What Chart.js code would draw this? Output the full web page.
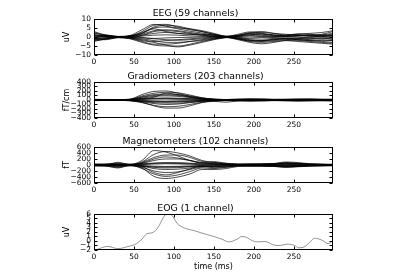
<!DOCTYPE html>
<html>
<head>
<meta charset="UTF-8">
<title>Evoked</title>
<script src="https://cdn.jsdelivr.net/npm/chart.js@4/dist/chart.umd.min.js"></script>
<style>
  body { margin: 0; background: #fff; }
  #wrap { position: relative; width: 400px; height: 280px; }
  canvas { position: absolute; left: 0; }
</style>
</head>
<body>
<div id="wrap">
  <canvas id="eeg" width="400" height="66" style="top:3px"></canvas>
  <canvas id="grad" width="400" height="66" style="top:66px"></canvas>
  <canvas id="mag" width="400" height="66" style="top:131px"></canvas>
  <canvas id="eog" width="400" height="78" style="top:198px"></canvas>
</div>
<script>
// time axis (ms)
const times = [0,15,30,45,60,75,90,105,120,135,150,165,180,195,210,225,240,255,270,285,299];
const xTicks = [0,50,100,150,200,250];

// EEG, uV
const eeg = [
  [3,1,0.3,0.5,3,6.5,7,5.5,4,3,1.5,0.3,-0.5,-1.5,-2,-1.5,-1,-1.5,-2,-2.5,-3],
  [2,1.2,0.2,0.8,4,7,6,5,4.5,3.5,2,0.5,0.8,2.5,3,2,1.5,1,0.5,1.5,3],
  [1,0.5,0,0.6,2.5,5,5.5,4.5,3.2,2.2,1,0.2,1,2,2.5,2,1,1.5,2,2.5,3.5],
  [0.5,0.8,0.2,0.3,1.5,3.5,4,3.5,2.5,1.5,0.8,0,0.5,1.2,1.5,0.8,0.5,0.8,1.2,1,1.5],
  [-0.5,0.3,0.1,0.2,1,2,2.5,2,1.5,1,0.5,0.1,0.3,0.8,0.5,0.3,0.2,0.5,0.8,0.5,0.8],
  [-1,-0.5,0,-0.2,0.5,1,1.2,1,0.6,0.4,0.2,0,-0.2,-0.5,-0.3,0,0.2,0,-0.3,0.2,0.5],
  [-1.5,-1,-0.2,-0.3,-0.5,-0.8,-0.5,-0.3,-0.2,0,0,0,-0.5,-1,-1.2,-0.8,-0.5,-0.8,-1,-0.8,-1],
  [-2,-1.2,-0.3,-0.6,-1.5,-2.5,-2,-1.5,-1,-0.5,-0.2,0,-0.8,-1.8,-2.2,-1.5,-1,-1.5,-2,-1.5,-2],
  [-1.5,-1.5,-0.4,-0.8,-2.5,-4,-4,-3.5,-2.5,-1.5,-0.8,-0.2,-1,-2.5,-3,-2.5,-2,-2,-2.5,-3,-3.5],
  [-2.5,-1,-0.3,-1,-3,-4.5,-5,-5,-4,-2.5,-1.2,-0.3,-1.5,-3,-3.8,-3,-2,-2.5,-3,-3.5,-4],
  [0,0.8,0.3,0.4,2,4.5,3,2,1.5,1.5,1.2,0.3,1.5,2.8,2,1.2,1,1.8,1.5,0.8,0.5],
  [1.5,0.2,-0.1,-0.4,-1,-2,-3,-3,-2.5,-2,-1,-0.2,0.5,1.5,1,0.5,0.8,1.2,0.5,0,-0.5],
  [2.5,0.5,0.1,0.5,2,5.5,6.5,6,4.5,3,1.5,0.2,-1,-2,-2.5,-2,-1.5,-1,-1.5,-2,-2],
  [-0.8,-0.8,-0.2,-0.5,-2,-3,-4.5,-5.5,-4.5,-3,-1.5,-0.4,0.2,0.5,0.3,-0.3,-0.8,-0.5,0,0.5,1],
  [0.8,-0.3,0,0.1,-0.3,-1,-1.5,-1.8,-1.5,-1,-0.5,0,0.8,2,1.8,1,0.5,0.8,1,1.2,2],
  [-1.2,0.6,0.1,-0.1,0.8,3,3.5,3,2,1,0.3,-0.1,-1.2,-2.2,-2,-1.2,-1,-1.2,-1,-0.5,-1.5]
];
const eegTicks = [-10,-5,0,5,10];

// Gradiometers, fT/cm
const grad = [
  [10,5,0,15,120,190,200,150,80,30,10,5,10,15,10,5,5,10,15,10,5],
  [-5,-10,-5,10,90,150,170,160,110,50,15,0,-5,10,15,10,0,-10,-5,5,10],
  [5,10,5,5,70,120,130,120,90,45,20,10,15,20,15,10,10,15,20,15,10],
  [0,-5,0,5,40,80,90,80,55,25,10,0,5,10,5,0,-5,0,5,0,-5],
  [-10,-5,0,-5,20,40,45,40,30,15,5,0,-10,-5,0,5,0,-5,-10,-5,0],
  [5,0,-5,0,-20,-40,-50,-45,-30,-15,-5,0,5,0,-5,-10,-5,0,5,0,5],
  [-5,-10,-5,-10,-40,-80,-100,-90,-60,-30,-10,-5,-10,-15,-10,-5,-10,-15,-10,-5,-10],
  [10,5,5,-15,-60,-120,-150,-140,-100,-50,-20,-10,-15,-20,-15,-10,-15,-20,-15,-10,-15],
  [0,5,0,-10,-50,-130,-180,-180,-130,-60,-30,-50,-20,-10,-5,0,5,0,-5,0,5],
  [15,10,5,20,60,100,110,100,70,40,20,10,20,25,20,15,20,25,20,15,20],
  [-15,-10,-5,-20,-30,-60,-70,-70,-50,-30,-25,-15,-20,-25,-20,-15,-20,-25,-20,-20,-25],
  [5,0,5,10,30,60,150,120,60,20,0,-10,0,5,10,5,0,5,10,5,0],
  [0,0,0,0,10,20,20,15,10,5,0,0,0,0,0,0,0,0,0,0,0],
  [-5,-5,-5,-5,-10,-20,-25,-20,-15,-10,-5,-5,-5,-5,-5,-5,-5,-5,-5,-5,-5],
  [8,12,10,12,25,30,35,30,25,18,12,10,12,15,18,12,10,12,15,12,10],
  [-8,-12,-10,-12,-25,-30,-35,-30,-25,-18,-12,-10,-12,-15,-18,-12,-10,-12,-15,-12,-10]
];
const gradTicks = [-400,-300,-200,-100,0,100,200,300,400];

// Magnetometers, fT
const mag = [
  [20,30,60,20,150,480,430,300,150,60,50,30,20,30,20,40,80,60,30,20,10],
  [-10,0,90,10,100,350,450,400,300,150,80,30,10,20,30,50,100,80,40,20,10],
  [10,20,40,5,80,250,330,330,250,120,90,50,20,10,20,30,60,50,30,20,10],
  [0,10,20,0,50,150,200,200,150,80,40,20,10,10,10,20,40,30,20,10,0],
  [-5,-10,-20,0,20,60,80,80,60,30,20,10,0,-10,0,10,20,10,0,-5,-5],
  [5,0,-30,0,-30,-80,-100,-90,-60,-30,-30,-20,-10,-10,-10,-10,-20,-10,-5,0,5],
  [-10,-20,-60,-5,-80,-200,-250,-230,-150,-70,-60,-40,-20,-20,-20,-30,-50,-40,-20,-10,-5],
  [-20,-30,-100,-10,-120,-300,-380,-330,-220,-100,-120,-80,-30,-30,-30,-40,-70,-50,-30,-20,-10],
  [-30,-40,-80,-20,-100,-380,-450,-400,-300,-150,-150,-120,-50,-40,-40,-50,-80,-60,-40,-30,-20],
  [15,20,10,10,60,200,270,230,150,70,110,60,30,30,30,30,60,40,20,10,10],
  [-15,-10,10,-10,-40,-120,-150,-140,-100,-50,-50,-40,-20,-20,-20,-20,-30,-20,-10,-10,-10],
  [25,10,-10,10,-50,-250,-330,-250,-130,-40,-90,-70,-30,-20,-20,-30,-40,-30,-20,-10,-5],
  [0,5,0,0,10,30,40,35,25,10,5,5,0,0,5,5,10,5,0,0,0],
  [-5,-5,-10,-5,-15,-40,-50,-45,-30,-15,-10,-10,-5,-5,-5,-10,-15,-10,-5,-5,-5],
  [30,25,30,30,40,60,60,50,40,35,30,30,30,35,40,45,50,40,30,30,25],
  [-30,-25,-40,-30,-40,-60,-70,-60,-50,-40,-40,-35,-30,-35,-40,-45,-60,-45,-35,-30,-25]
];
const magTicks = [-600,-400,-200,0,200,400,600];

// EOG, uV
const eogTimes = [2,17,30,45,51,60,66,72,79,89,92,98,104,113,125,138,150,160,169,179,185,191,198,206,214,225,233,241,251,256,262,270,276,285,293,297];
const eogValues = [-2,-1.2,-1.7,-1.1,-0.8,0.4,1.6,1.8,2.7,5.8,6,5.6,3.9,2.9,2.3,1.6,1.0,0.4,-0.2,0.4,1.0,0.8,0.05,-0.2,-0.1,-0.9,-1.0,-0.7,-1.0,-1.5,-1.4,-0.3,0.6,0.2,-0.6,-0.3];
const eogTicks = [-2,-1,0,1,2,3,4,5,6];

const FONT = 'DejaVu Sans';
const fmt = v => String(v).replace('-', '\u2212');

const frame = {
  id: 'frame',
  afterDraw(chart) {
    const { ctx, chartArea: a, scales: { x, y } } = chart;
    const L = Math.round(a.left) + 0.5, R = Math.round(a.right) - 0.5;
    const T = Math.round(a.top) + 0.5, B = Math.round(a.bottom) - 0.5;
    ctx.save();
    ctx.strokeStyle = '#000';
    ctx.lineWidth = 1;
    ctx.beginPath();
    x.ticks.forEach(t => {
      const p = Math.round(x.getPixelForValue(t.value)) + 0.5;
      ctx.moveTo(p, B); ctx.lineTo(p, B - 3);
      ctx.moveTo(p, T); ctx.lineTo(p, T + 3);
    });
    y.ticks.forEach(t => {
      const p = Math.round(y.getPixelForValue(t.value)) + 0.5;
      ctx.moveTo(L, p); ctx.lineTo(L + 3, p);
      ctx.moveTo(R, p); ctx.lineTo(R - 3, p);
    });
    ctx.stroke();
    ctx.strokeRect(L, T, R - L, B - T);
    ctx.restore();
  }
};

function panel(id, title, unit, xs, series, yTicks, last) {
  new Chart(id, {
    type: 'line',
    data: {
      datasets: series.map(s => ({
        data: s.map((v, i) => ({ x: xs[i], y: v })),
        borderColor: last ? 'rgba(0,0,0,0.7)' : '#000',
        borderWidth: last ? 0.6 : 0.7,
        pointRadius: 0,
        cubicInterpolationMode: 'monotone'
      }))
    },
    options: {
      responsive: false,
      animation: false,
      layout: { padding: { left: 58, right: 67, top: 0, bottom: 0 } },
      plugins: {
        legend: { display: false },
        tooltip: { enabled: false },
        title: {
          display: true, text: title, color: '#000',
          font: { family: FONT, size: 9.3, weight: 'normal' },
          padding: { top: 4.8, bottom: 0 }
        }
      },
      scales: {
        x: {
          type: 'linear', min: 0, max: 299,
          grid: { display: false, drawTicks: false }, border: { display: false },
          afterBuildTicks: s => { s.ticks = xTicks.map(v => ({ value: v })); },
          afterFit: s => { s.height = last ? 26 : 14; },
          ticks: { padding: 3, color: '#000', maxRotation: 0, autoSkip: false,
                   font: { family: FONT, size: 7.5 }, callback: fmt },
          title: { display: last, text: 'time (ms)', color: '#000',
                   font: { family: FONT, size: 8 }, padding: { top: 4, bottom: 4 } }
        },
        y: {
          min: yTicks[0], max: yTicks[yTicks.length - 1],
          grid: { display: false, drawTicks: false }, border: { display: false },
          afterBuildTicks: s => { s.ticks = yTicks.map(v => ({ value: v })); },
          afterFit: s => { s.width = 36; },
          ticks: { padding: 3, color: '#000', autoSkip: false,
                   font: { family: FONT, size: 7.5 }, callback: fmt },
          title: { display: true, text: unit, color: '#000',
                   font: { family: FONT, size: 8 }, padding: { top: 4, bottom: 4 } }
        }
      }
    },
    plugins: [frame]
  });
}

panel('eeg', 'EEG (59 channels)', 'uV', times, eeg, eegTicks, false);
panel('grad', 'Gradiometers (203 channels)', 'fT/cm', times, grad, gradTicks, false);
panel('mag', 'Magnetometers (102 channels)', 'fT', times, mag, magTicks, false);
panel('eog', 'EOG (1 channel)', 'uV', eogTimes, [eogValues], eogTicks, true);
</script>
</body>
</html>
